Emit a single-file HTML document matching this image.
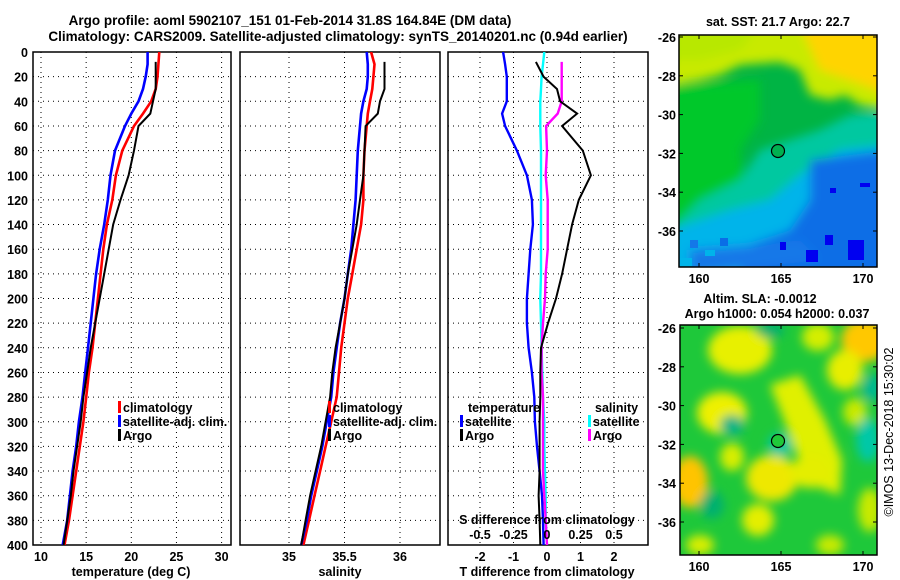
<!DOCTYPE html>
<html><head><meta charset="utf-8"><style>
body{margin:0;background:#fff;}
svg{display:block;font-family:"Liberation Sans",Arial,sans-serif;font-weight:bold;}
text{font-size:12.5px;fill:#000;}
</style></head><body>
<svg id="fig" width="900" height="580" viewBox="0 0 900 580" xmlns="http://www.w3.org/2000/svg">
<defs>
<filter id="blur1" x="-20%" y="-20%" width="140%" height="140%"><feGaussianBlur stdDeviation="5"/></filter>
<filter id="blur2" x="-20%" y="-20%" width="140%" height="140%"><feGaussianBlur stdDeviation="5"/></filter>
<clipPath id="cm1"><rect x="679" y="35" width="198" height="232"/></clipPath>
<clipPath id="cm2"><rect x="680" y="325" width="197" height="230"/></clipPath>
<clipPath id="cp1"><rect x="33" y="52" width="198" height="493"/></clipPath>
<clipPath id="cp2"><rect x="240" y="52" width="200" height="493"/></clipPath>
<clipPath id="cp3"><rect x="448" y="52" width="200" height="493"/></clipPath>
</defs>
<text x="290" y="25" text-anchor="middle" style="font-size:13.5px">Argo profile: aoml 5902107_151 01-Feb-2014 31.8S 164.84E (DM data)</text>
<text x="338" y="41" text-anchor="middle" style="font-size:13.5px">Climatology: CARS2009. Satellite-adjusted climatology: synTS_20140201.nc (0.94d earlier)</text>
<g id="g1"></g>
<g id="g2"></g>
<g id="g3"></g>

<!-- top map -->
<g>
<g clip-path="url(#cm1)">
<rect x="679" y="35" width="198" height="232" fill="#00b444"/>
<g filter="url(#blur1)">
<polygon points="670,25 890,25 890,110 860,105 845,95 830,100 810,95 800,70 780,62 740,65 720,75 700,80 670,85" fill="#c8ea00"/>
<polygon points="800,25 890,25 890,95 850,80 820,70" fill="#ffd400"/>
<polygon points="670,25 760,25 740,50 700,60 670,60" fill="#b8e800"/>
<polygon points="670,85 760,80 760,120 740,150 745,190 720,210 700,225 670,230" fill="#00c82a"/>
<polygon points="700,200 740,180 760,150 790,140 820,130 850,115 890,110 890,280 670,280 670,230" fill="#00c8a0"/>
<polygon points="670,230 730,210 770,200 800,175 840,150 890,145 890,280 670,280" fill="#00b4ea"/>
<polygon points="810,160 890,150 890,280 740,280 750,245 790,230 810,200" fill="#0a6ee6"/>
<polygon points="690,250 760,245 800,240 820,260 690,275" fill="#1478e8"/>
</g>
<rect x="690" y="240" width="8" height="8" fill="#1478e8"/>
<rect x="705" y="250" width="10" height="6" fill="#00b4ea"/>
<rect x="720" y="238" width="8" height="8" fill="#0a6ee6"/>
<rect x="680" y="258" width="12" height="8" fill="#00b4ea"/>
<rect x="848" y="240" width="16" height="20" fill="#0000f0"/>
<rect x="806" y="250" width="12" height="12" fill="#0000f0"/>
<rect x="825" y="235" width="8" height="10" fill="#0000f0"/>
<rect x="780" y="242" width="6" height="8" fill="#0000f0"/>
<rect x="860" y="183" width="10" height="4" fill="#0000f0"/>
<rect x="830" y="188" width="6" height="5" fill="#0000f0"/>
<circle cx="778" cy="151" r="6.5" fill="#00b050" stroke="#000" stroke-width="1.2"/>
</g>
<rect x="679" y="35" width="198" height="232" fill="none" stroke="#000" stroke-width="1.5"/>
<text x="778" y="26" text-anchor="middle">sat. SST: 21.7 Argo: 22.7</text>
<g id="m1ax"></g>
</g>

<!-- bottom map -->
<g>
<g clip-path="url(#cm2)">
<rect x="680" y="325" width="197" height="230" fill="#1ec83a"/>
<g filter="url(#blur2)">
<ellipse cx="740" cy="350" rx="32" ry="24" fill="#e8f000"/>
<ellipse cx="818" cy="337" rx="16" ry="14" fill="#d4ee00"/>
<ellipse cx="865" cy="340" rx="24" ry="22" fill="#ffc800"/>
<ellipse cx="845" cy="370" rx="18" ry="20" fill="#e8ee00"/>
<ellipse cx="722" cy="413" rx="25" ry="21" fill="#eef000"/>
<ellipse cx="855" cy="412" rx="12" ry="14" fill="#c8ea00"/>
<polygon points="770,385 800,375 825,420 842,460 840,495 812,485 796,452 784,420" fill="#e0f000"/>
<ellipse cx="772" cy="478" rx="26" ry="23" fill="#eee800"/>
<ellipse cx="810" cy="472" rx="20" ry="16" fill="#e4ee00"/>
<ellipse cx="732" cy="457" rx="12" ry="14" fill="#d8ee00"/>
<ellipse cx="690" cy="482" rx="18" ry="26" fill="#ffc400"/>
<ellipse cx="758" cy="520" rx="16" ry="16" fill="#e4ee00"/>
<ellipse cx="870" cy="510" rx="12" ry="22" fill="#c8ea00"/>
<ellipse cx="700" cy="545" rx="14" ry="10" fill="#d8ee00"/>
<ellipse cx="830" cy="545" rx="14" ry="10" fill="#c8ea00"/>
<ellipse cx="780" cy="445" rx="12" ry="12" fill="#00c8a0"/>
<ellipse cx="732" cy="425" rx="12" ry="10" fill="#00b488"/>
<ellipse cx="868" cy="440" rx="12" ry="22" fill="#00c8a8"/>
<ellipse cx="872" cy="388" rx="10" ry="14" fill="#00b890"/>
<ellipse cx="712" cy="505" rx="12" ry="14" fill="#00b070"/>
<ellipse cx="770" cy="330" rx="14" ry="8" fill="#00b070"/>
</g>
<circle cx="778" cy="441" r="6.5" fill="#20c83a" stroke="#000" stroke-width="1.2"/>
</g>
<rect x="680" y="325" width="197" height="230" fill="none" stroke="#000" stroke-width="1.5"/>
<text x="760" y="303" text-anchor="middle">Altim. SLA: -0.0012</text>
<text x="777" y="318" text-anchor="middle">Argo h1000: 0.054 h2000: 0.037</text>
<g id="m2ax"></g>
</g>
<text transform="translate(893,432) rotate(-90)" text-anchor="middle" style="font-weight:normal;font-size:12.5px">©IMOS 13-Dec-2018 15:30:02</text>
</svg>
<script>
// ---- data ----
const climDepths = [0,10,20,30,40,50,60,80,100,120,140,160,180,200,220,240,260,280,300,320,340,360,380,400];
const argoDepths = [8,20,30,40,50,60,80,100,120,140,160,180,200,220,240,260,280,300,320,340,360,380,400];
const tempClim = [23.1,23.0,22.9,22.7,22.2,21.3,20.3,19.0,18.3,17.9,17.3,16.9,16.6,16.3,16.0,15.7,15.3,15.0,14.7,14.3,13.9,13.5,13.1,12.6];
const tempSat  = [21.8,21.8,21.6,21.3,20.8,20.0,19.3,18.2,17.7,17.4,17.0,16.5,16.1,15.8,15.5,15.2,14.9,14.6,14.2,13.9,13.5,13.2,12.9,12.4];
const tempArgo = [22.7,22.7,22.7,22.4,22.1,20.8,20.3,19.7,18.8,18.0,17.5,17.0,16.5,16.0,15.5,15.1,14.7,14.4,14.0,13.6,13.3,12.9,12.5];
const salClim = [35.74,35.77,35.76,35.75,35.73,35.71,35.70,35.68,35.67,35.67,35.65,35.61,35.57,35.53,35.50,35.47,35.45,35.43,35.38,35.33,35.28,35.23,35.18,35.13];
const salSat  = [35.70,35.71,35.71,35.70,35.67,35.65,35.64,35.62,35.61,35.60,35.58,35.56,35.53,35.50,35.46,35.43,35.40,35.38,35.34,35.30,35.25,35.20,35.16,35.11];
const salArgo = [35.86,35.86,35.86,35.82,35.80,35.69,35.68,35.67,35.64,35.61,35.57,35.53,35.50,35.46,35.42,35.39,35.37,35.33,35.29,35.24,35.19,35.15,35.11];
const tDiffSat  = [-1.31,-1.25,-1.2,-1.2,-1.2,-1.34,-1.25,-0.9,-0.6,-0.45,-0.42,-0.5,-0.55,-0.6,-0.6,-0.55,-0.45,-0.38,-0.36,-0.3,-0.22,-0.15,-0.12,-0.1];
const sDiffSat  = [-0.02,-0.03,-0.04,-0.045,-0.05,-0.05,-0.05,-0.045,-0.045,-0.045,-0.045,-0.045,-0.045,-0.05,-0.045,-0.04,-0.035,-0.03,-0.02,-0.02,-0.015,-0.01,-0.01,0];
const tDiffArgo = [-0.33,-0.1,0.3,0.39,0.9,0.45,1.07,1.31,0.95,0.75,0.6,0.45,0.27,0.03,-0.18,-0.2,-0.2,-0.22,-0.22,-0.22,-0.25,-0.22,-0.2];
const sDiffArgo = [0.11,0.11,0.11,0.11,0.08,-0.007,0,-0.01,0.005,0.005,0.005,-0.01,-0.015,-0.03,-0.04,-0.04,-0.03,-0.03,-0.03,-0.03,-0.02,-0.01,0];
const depthTicks = [0,20,40,60,80,100,120,140,160,180,200,220,240,260,280,300,320,340,360,380,400];
const tempTicks = [10,15,20,25,30];
const salTicks = [35,35.5,36];
const salTickLabels = ["35","35.5","36"];
const tdTicks = [-2,-1,0,1,2];
const sdTicks = [-0.5,-0.25,0,0.25,0.5];
const sdTickLabels = ["-0.5","-0.25","0","0.25","0.5"];
const latTicks = [-26,-28,-30,-32,-34,-36];
const lonTicks = [160,165,170];

const NS = "http://www.w3.org/2000/svg";
function mk(tag, attrs, parent, txt){
  const e = document.createElementNS(NS, tag);
  for (const k in attrs) e.setAttribute(k, attrs[k]);
  if (txt !== undefined) e.textContent = txt;
  parent.appendChild(e);
  return e;
}
const Y0 = 52, Y1 = 545;
const yD = d => Y0 + (d/400)*(Y1-Y0);
const xT = t => 41 + (t-10)*9.03;
const xS = s => 289 + (s-35)*111;
const xTD = v => 547 + v*33.5;
const xSD = s => 547 + s*134;

function frame(g, x0, x1, clipId, xticks, xfn, labels, leftLabels){
  for (const d of depthTicks){
    const gl = mk('line',{x1:x0,x2:x1,y1:yD(d),y2:yD(d),stroke:'#000','stroke-width':1,'stroke-dasharray':'1,4'},g);
    
    
    if (leftLabels){
      const t = mk('text',{x:28,y:yD(d)+5,'text-anchor':'end'},g,String(d));
      
      
    }
  }
  xticks.forEach((v,i)=>{
    const x = xfn(v);
    const gl = mk('line',{x1:x,x2:x,y1:Y0,y2:Y1,stroke:'#000','stroke-width':1,'stroke-dasharray':'1,4'},g);
    
    
    const t = mk('text',{x:x,y:561,'text-anchor':'middle'},g,labels ? labels[i] : String(v));
    
    
  });
  const r = mk('rect',{x:x0,y:Y0,width:x1-x0,height:Y1-Y0,fill:'none',stroke:'#000','stroke-width':1.5},g);
  
  
}
function line(g, clipId, depths, vals, xfn, color, w, name){
  const pts = depths.map((d,i)=>xfn(vals[i]).toFixed(1)+','+yD(d).toFixed(1)).join(' ');
  const p = mk('polyline',{points:pts,fill:'none',stroke:color,'stroke-width':w,'clip-path':'url(#'+clipId+')','stroke-linejoin':'miter'},g);
  
  
}
function legendItem(g, x, y, color, label, name){
  const b = mk('rect',{x:x,y:y-11,width:3,height:12,fill:color},g);
  
  
  const t = mk('text',{x:x+5,y:y},g,label);
  
  
}

// Panel 1
const g1 = document.getElementById('g1');
frame(g1, 33, 231, 'cp1', tempTicks, xT, null, true);
line(g1,'cp1',climDepths,tempClim,xT,'#ff0000',2.6,'climatology-temperature-line');
line(g1,'cp1',climDepths,tempSat,xT,'#0000ff',2.6,'satellite-temperature-line');
line(g1,'cp1',argoDepths,tempArgo,xT,'#000000',2,'argo-temperature-line');
legendItem(g1,118,412,'#ff0000','climatology','legend-climatology');
legendItem(g1,118,426,'#0000ff','satellite-adj. clim.','legend-satellite-adj');
legendItem(g1,118,440,'#000000','Argo','legend-argo');
let t = mk('text',{x:131,y:576,'text-anchor':'middle'},g1,'temperature (deg C)');



// Panel 2
const g2 = document.getElementById('g2');
frame(g2, 240, 440, 'cp2', salTicks, xS, salTickLabels, false);
line(g2,'cp2',climDepths,salClim,xS,'#ff0000',2.6,'climatology-salinity-line');
line(g2,'cp2',climDepths,salSat,xS,'#0000ff',2.6,'satellite-salinity-line');
line(g2,'cp2',argoDepths,salArgo,xS,'#000000',2,'argo-salinity-line');
legendItem(g2,328,412,'#ff0000','climatology','legend-climatology-sal');
legendItem(g2,328,426,'#0000ff','satellite-adj. clim.','legend-satellite-adj-sal');
legendItem(g2,328,440,'#000000','Argo','legend-argo-sal');
t = mk('text',{x:340,y:576,'text-anchor':'middle'},g2,'salinity');



// Panel 3
const g3 = document.getElementById('g3');
frame(g3, 448, 648, 'cp3', tdTicks, xTD, null, false);
line(g3,'cp3',climDepths,tDiffSat,xTD,'#0000ff',2.4,'satellite-t-diff-line');
line(g3,'cp3',climDepths,sDiffSat,xSD,'#00ffff',2.4,'satellite-s-diff-line');
line(g3,'cp3',argoDepths,sDiffArgo,xSD,'#ff00ff',2.4,'argo-s-diff-line');
line(g3,'cp3',argoDepths,tDiffArgo,xTD,'#000000',2,'argo-t-diff-line');
t = mk('text',{x:468,y:412},g3,'temperature');


t = mk('text',{x:595,y:412},g3,'salinity');


legendItem(g3,460,426,'#0000ff','satellite','legend-t-satellite');
legendItem(g3,460,440,'#000000','Argo','legend-t-argo');
legendItem(g3,588,426,'#00ffff','satellite','legend-s-satellite');
legendItem(g3,588,440,'#ff00ff','Argo','legend-s-argo');
t = mk('text',{x:547,y:524,'text-anchor':'middle'},g3,'S difference from climatology');


sdTicks.forEach((v,i)=>{
  const tl = mk('text',{x:xSD(v),y:539,'text-anchor':'middle'},g3,sdTickLabels[i]);
  
  
});
t = mk('text',{x:547,y:576,'text-anchor':'middle'},g3,'T difference from climatology');



// Map axes
function mapAxes(id, x0, x1, yTop, latY0, yBottom){
  const g = document.getElementById(id);
  const ly = lat => latY0 + (-26 - lat)*19.4;
  const lx = lon => 699 + (lon-160)*16.4;
  latTicks.forEach(lat=>{
    const y = ly(lat);
    mk('line',{x1:x0,x2:x0+4,y1:y,y2:y,stroke:'#000'},g);
    mk('line',{x1:x1-4,x2:x1,y1:y,y2:y,stroke:'#000'},g);
    const tl = mk('text',{x:676,y:y+5,'text-anchor':'end'},g,String(lat));
    
    
  });
  lonTicks.forEach(lon=>{
    const x = lx(lon);
    mk('line',{x1:x,x2:x,y1:yTop,y2:yTop+4,stroke:'#000'},g);
    mk('line',{x1:x,x2:x,y1:yBottom-4,y2:yBottom,stroke:'#000'},g);
    const tl = mk('text',{x:x,y:yBottom+16,'text-anchor':'middle'},g,String(lon));
    
    
  });
}
mapAxes('m1ax', 679, 877, 35, 37, 267);
mapAxes('m2ax', 680, 877, 325, 328, 555);
</script>
</body></html>
